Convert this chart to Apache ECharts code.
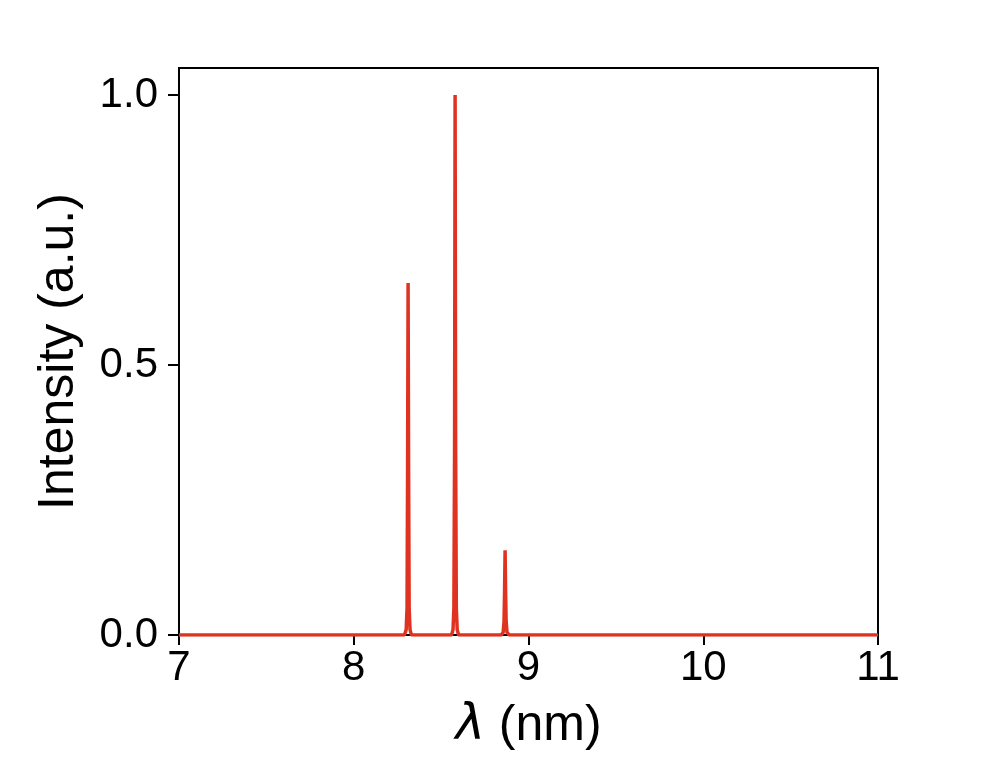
<!DOCTYPE html>
<html>
<head>
<meta charset="utf-8">
<script src="https://cdn.jsdelivr.net/npm/echarts@6/dist/echarts.min.js"></script>
<style>html,body{margin:0;padding:0;background:#fff;}#c{width:997px;height:757px;}</style>
</head>
<body>
<div id="c"></div>
<script>
// Spectrum: wavelength (nm) and intensity (a.u.)
var wavelength = [7.0, 8.29, 8.300, 8.305, 8.308, 8.311, 8.314, 8.317, 8.322, 8.33,
  8.56, 8.568, 8.573, 8.577, 8.580, 8.583, 8.587, 8.592, 8.60,
  8.845, 8.855, 8.860, 8.863, 8.866, 8.869, 8.872, 8.877, 8.89, 11.0];
var intensity = [0, 0, 0.01, 0.05, 0.30, 0.652, 0.30, 0.05, 0.01, 0,
  0, 0.01, 0.05, 0.35, 1.0, 0.35, 0.05, 0.01, 0,
  0, 0.005, 0.025, 0.08, 0.157, 0.08, 0.025, 0.005, 0, 0];
var xTicks = [7, 8, 9, 10, 11];
var yTicks = [0, 0.5, 1.0];

var data = wavelength.map(function (x, i) { return [x, intensity[i]]; });
var chart = echarts.init(document.getElementById('c'));
var font = 'Liberation Sans, Arial, sans-serif';
chart.setOption({
  animation: false,
  grid: { left: 179, top: 68, right: 119, bottom: 122, show: true, borderColor: '#000', borderWidth: 2, backgroundColor: 'transparent' },
  xAxis: {
    type: 'value', min: 7, max: 11, interval: 1,
    name: '{i|λ} (nm)', nameLocation: 'middle', nameGap: 66,
    nameTextStyle: { fontSize: 50, color: '#000', fontFamily: font,
      rich: { i: { fontStyle: 'italic', fontSize: 50, fontFamily: 'DejaVu Sans', color: '#000' } } },
    axisLine: { show: true, lineStyle: { color: '#000', width: 2 } },
    axisTick: { show: true, inside: false, length: 10, lineStyle: { color: '#000', width: 2 }, customValues: xTicks },
    axisLabel: { fontSize: 42, color: '#000', fontFamily: font, margin: 12, customValues: xTicks },
    splitLine: { show: false }
  },
  yAxis: {
    type: 'value', min: 0, max: 1.05, interval: 0.5,
    name: 'Intensity (a.u.)', nameLocation: 'middle', nameGap: 95,
    nameTextStyle: { fontSize: 50, color: '#000', fontFamily: font },
    axisLine: { show: true, lineStyle: { color: '#000', width: 2 } },
    axisTick: { show: true, inside: false, length: 11, lineStyle: { color: '#000', width: 2 }, customValues: yTicks },
    axisLabel: { fontSize: 42, color: '#000', fontFamily: font, margin: 21, customValues: yTicks,
      formatter: function (v) { return v.toFixed(1); } },
    splitLine: { show: false }
  },
  series: [{
    type: 'line', data: data, showSymbol: false, symbol: 'none',
    lineStyle: { color: '#e03221', width: 3.5 }, z: 1
  }]
});
</script>
</body>
</html>
